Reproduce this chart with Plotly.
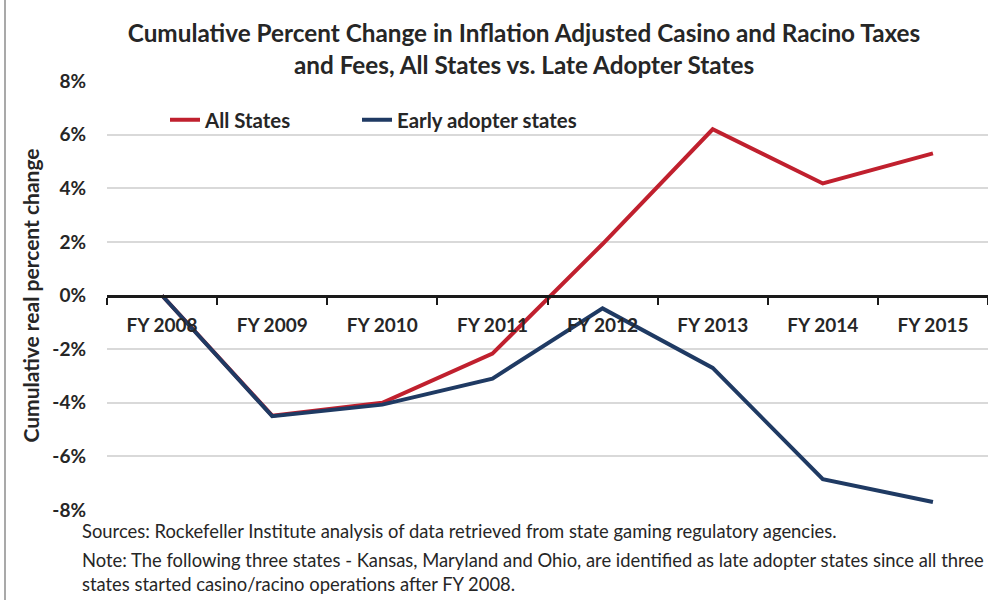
import plotly.graph_objects as go

categories = ["FY 2008", "FY 2009", "FY 2010", "FY 2011", "FY 2012", "FY 2013", "FY 2014", "FY 2015"]
all_states = [0.0, -4.48, -4.0, -2.17, 1.92, 6.2, 4.18, 5.3]
early_adopters = [0.0, -4.5, -4.07, -3.1, -0.48, -2.7, -6.85, -7.7]
y_ticks = [-8, -6, -4, -2, 0, 2, 4, 6, 8]
y_tick_labels = [f"{v}%" for v in y_ticks]

W, H = 988, 600
L, R, T, B = 107, 0, 81, 90
pw, ph = W - L - R, H - T - B

def px_x(x):
    return (x - L) / pw

def px_y(y):
    return (H - B - y) / ph

FONT = "Lato"
TXT = "#262626"

fig = go.Figure()
fig.add_trace(go.Scatter(x=categories, y=all_states, mode="lines", name="<b>All States</b>",
                         line=dict(color="#C0202E", width=4), legend="legend"))
fig.add_trace(go.Scatter(x=categories, y=early_adopters, mode="lines", name="<b>Early adopter states</b>",
                         line=dict(color="#1F3A63", width=4), legend="legend2"))

leg_common = dict(orientation="h", xanchor="left", yanchor="middle", y=px_y(120),
                  font=dict(size=20.4, family=FONT, color=TXT), bgcolor="rgba(0,0,0,0)")

fig.update_layout(
    width=W, height=H,
    margin=dict(l=L, r=R, t=T, b=B),
    paper_bgcolor="white", plot_bgcolor="white",
    font=dict(family=FONT, color=TXT),
    title=dict(text="<b>Cumulative Percent Change in Inflation Adjusted Casino and Racino Taxes<br>and Fees, All States vs. Late Adopter States</b>",
               x=px_x(524), xref="paper", xanchor="center", y=1 - 42 / H, yanchor="middle",
               font=dict(size=24.3, family=FONT, color=TXT)),
    showlegend=True,
    legend=dict(x=px_x(165), **leg_common),
    legend2=dict(x=px_x(357), **leg_common),
    xaxis=dict(type="category", anchor="free", position=0.5,
               showline=True, linecolor="#1a1a1a", linewidth=3,
               ticks="outside", tickson="boundaries", ticklen=7, tickwidth=2, tickcolor="#1a1a1a",
               showgrid=False, range=[-0.5, 7.5], ticklabelstandoff=12,
               tickfont=dict(size=19, family=FONT, color=TXT),
               tickprefix="<b>", ticksuffix="</b>"),
    yaxis=dict(range=[-8, 8], tickvals=y_ticks, ticktext=[f"<b>{t}</b>" for t in y_tick_labels],
               showgrid=True, gridcolor="#D9D9D9", gridwidth=1.5, zeroline=False,
               showline=False, ticks="", ticklabelstandoff=20,
               tickfont=dict(size=19, family=FONT, color=TXT),
               title=dict(text="<b>Cumulative real percent change</b>", standoff=6,
                          font=dict(size=21, family=FONT, color=TXT))),
)

fig.add_shape(type="line", xref="paper", yref="paper",
              x0=px_x(5), x1=px_x(5), y0=px_y(600), y1=px_y(0),
              line=dict(color="#8c8c8c", width=1.5))

notes = [
    (531, "Sources: Rockefeller Institute analysis of data retrieved from state gaming regulatory agencies."),
    (560, "Note: The following three states - Kansas, Maryland and Ohio, are identified as late adopter states since all three"),
    (584, "states started casino/racino operations after FY 2008."),
]
for yy, txt in notes:
    fig.add_annotation(text=txt, xref="paper", yref="paper", x=px_x(80), y=px_y(yy),
                       xanchor="left", yanchor="middle", showarrow=False,
                       font=dict(size=18.4, family=FONT, color=TXT))

fig.write_html("out.html", post_script="document.body.style.margin='0';",
               config={"displayModeBar": False})
